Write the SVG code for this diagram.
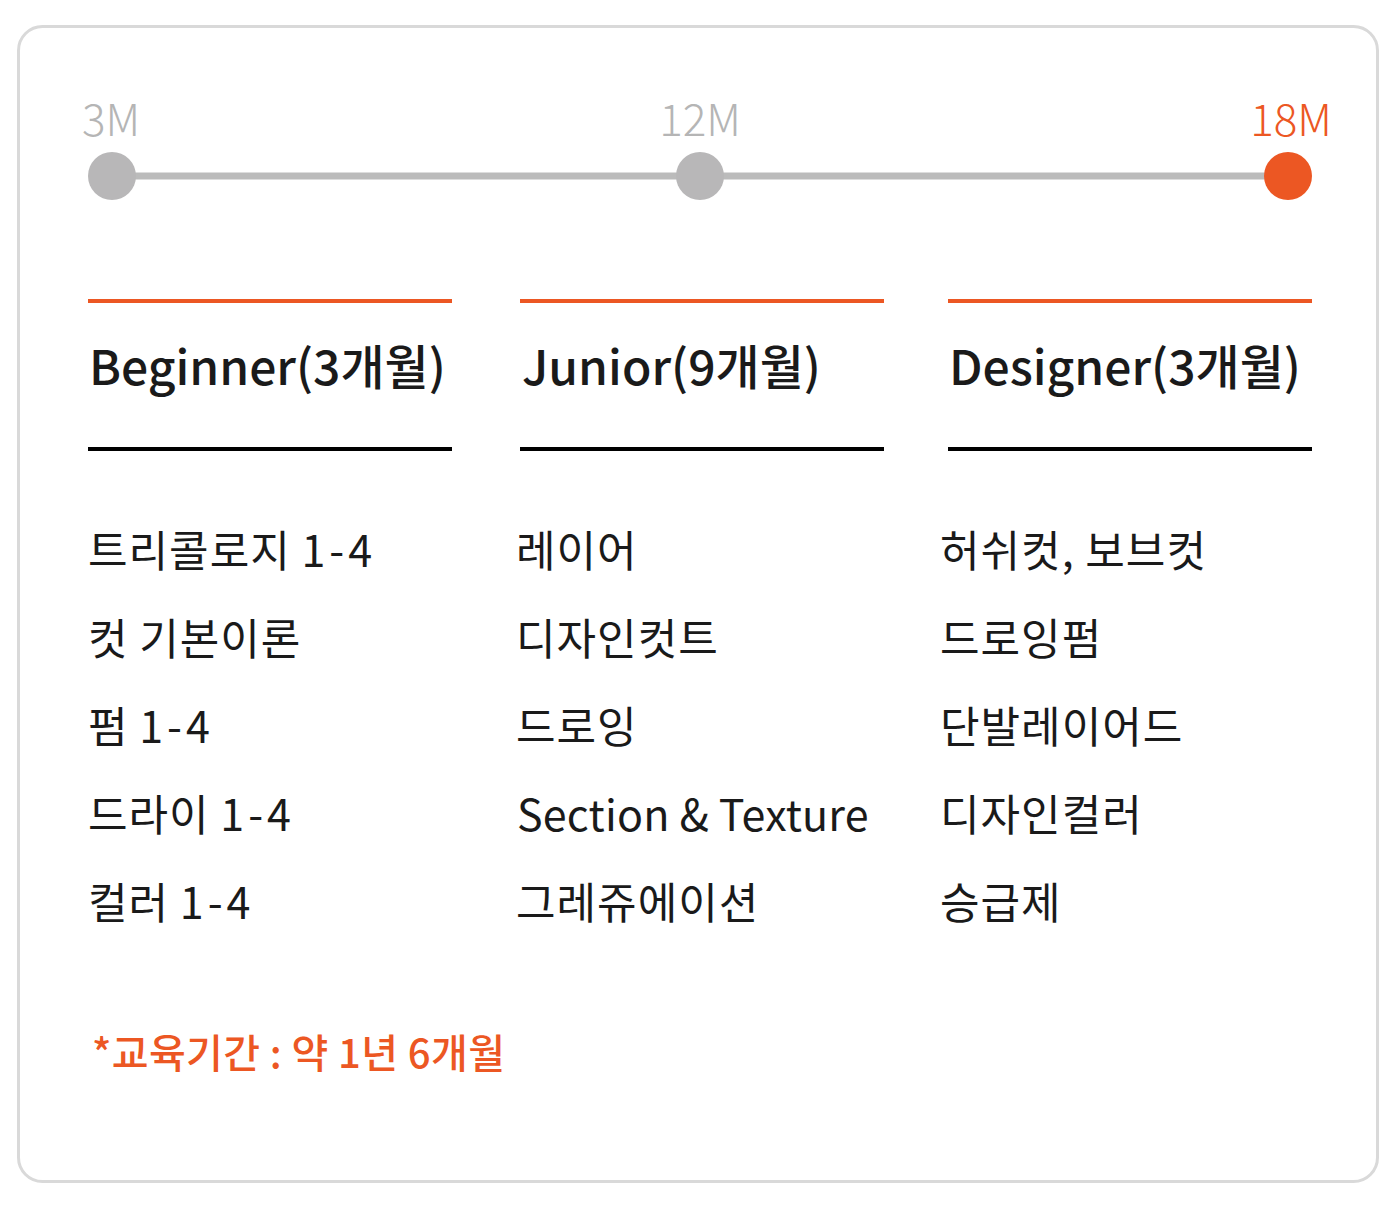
<svg xmlns="http://www.w3.org/2000/svg" width="1400" height="1208" viewBox="0 0 1400 1208">
<style>
.lbl{font-family:"Noto Sans CJK KR","Noto Sans",sans-serif;font-size:44px;font-weight:300}
.h{font-family:"Noto Sans CJK KR","Noto Sans",sans-serif;font-size:48px;font-weight:500;fill:#1a1a1a}
.t{font-family:"Noto Sans CJK KR","Noto Sans",sans-serif;font-size:43px;font-weight:400;fill:#1a1a1a;letter-spacing:1px}
.n{letter-spacing:4px}
.o{stroke:#ec5723;stroke-width:4}
.k{stroke:#000;stroke-width:4}
</style>
<rect x="18.5" y="26.5" width="1359" height="1155" rx="24" fill="#fff" stroke="#d9d9d9" stroke-width="3"/>
<g id="connectors">
<line x1="112" y1="176" x2="1288" y2="176" stroke="#bbbbbb" stroke-width="7"/>
</g>
<g id="m3"><circle cx="112" cy="176" r="24" fill="#b8b7b8"/><text class="lbl" x="111" y="136" text-anchor="middle" fill="#b5b5b5">3M</text></g>
<g id="m12"><circle cx="700" cy="176" r="24" fill="#b8b7b8"/><text class="lbl" x="700" y="136" text-anchor="middle" fill="#b5b5b5">12M</text></g>
<g id="m18"><circle cx="1288" cy="176" r="24" fill="#ec5723"/><text class="lbl" x="1332" y="136" text-anchor="end" fill="#ec5723">18M</text></g>
<g id="col1">
<line class="o" x1="88" y1="301" x2="452" y2="301"/>
<text class="h" x="89" y="385">Beginner(3개월)</text>
<line class="k" x1="88" y1="449" x2="452" y2="449"/>
<text class="t" x="88" y="567">트리콜로지 <tspan class="n">1-4</tspan></text>
<text class="t" x="88" y="655">컷 기본이론</text>
<text class="t" x="88" y="743">펌 <tspan class="n">1-4</tspan></text>
<text class="t" x="88" y="831">드라이 <tspan class="n">1-4</tspan></text>
<text class="t" x="88" y="919">컬러 <tspan class="n">1-4</tspan></text>
</g>
<g id="col2">
<line class="o" x1="520" y1="301" x2="884" y2="301"/>
<text class="h" x="522" y="385">Junior(9개월)</text>
<line class="k" x1="520" y1="449" x2="884" y2="449"/>
<text class="t" x="516" y="567">레이어</text>
<text class="t" x="516" y="655">디자인컷트</text>
<text class="t" x="516" y="743">드로잉</text>
<text class="t" x="517" y="831" style="letter-spacing:0.2px">Section &amp; Texture</text>
<text class="t" x="516" y="919">그레쥬에이션</text>
</g>
<g id="col3">
<line class="o" x1="948" y1="301" x2="1312" y2="301"/>
<text class="h" x="949" y="385">Designer(3개월)</text>
<line class="k" x1="948" y1="449" x2="1312" y2="449"/>
<text class="t" x="940" y="567">허쉬컷, 보브컷</text>
<text class="t" x="940" y="655">드로잉펌</text>
<text class="t" x="940" y="743">단발레이어드</text>
<text class="t" x="940" y="831">디자인컬러</text>
<text class="t" x="940" y="919">승급제</text>
</g>
<g id="note">
<text x="92" y="1068" font-family="&quot;Noto Sans CJK KR&quot;,sans-serif" font-size="40" font-weight="500" fill="#ec5723" textLength="413" lengthAdjust="spacing">*교육기간 : 약 1년 6개월</text>
</g>
</svg>
